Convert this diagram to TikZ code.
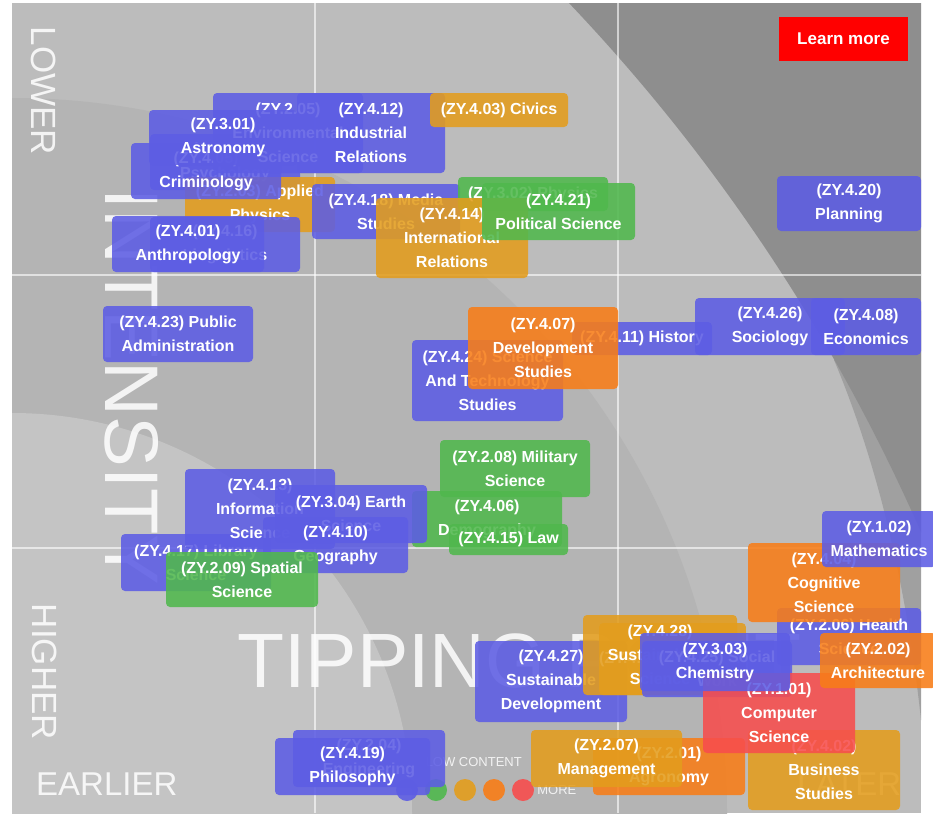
\documentclass[tikz,border=0pt]{standalone}
\usepackage{fontspec}
\setmainfont{Liberation Sans}
\usepackage{xcolor}
\usepackage{tikz}
\usetikzlibrary{
  positioning,
  calc
}

\definecolor{blu}{HTML}{5D5DE4}
\definecolor{gld}{HTML}{E39D1D}
\definecolor{org}{HTML}{F87D17}
\definecolor{grn}{HTML}{50B84D}
\definecolor{rd}{HTML}{F74D4D}
\definecolor{bgbase}{HTML}{BCBCBC}
\definecolor{bgmid}{HTML}{B4B4B4}
\definecolor{bglight}{HTML}{C4C4C4}
\definecolor{bgband}{HTML}{A0A0A0}
\definecolor{bgdark}{HTML}{8E8E8E}

\begin{document}
\begin{tikzpicture}[x=1pt,y=-1pt,
  subj/.style={rounded corners=4pt,inner sep=0pt,align=center,text=white,
    font=\bfseries\fontsize{16}{24}\selectfont,fill opacity=0.88,text opacity=1},
  biglab/.style={text=white,text opacity=0.85,inner sep=0pt,font=\fontsize{35}{35}\selectfont},
  legtxt/.style={text=white!90!gray,inner sep=0pt,font=\fontsize{13}{13}\selectfont}]

  \useasboundingbox (0,0) rectangle (933,819);
  \fill[white] (0,0) rectangle (933,819);

  % 背景の同心円
  \begin{scope}
    \clip (12,3) rectangle (921,813);
    \fill[bgbase] (12,3) rectangle (921,813);
    \fill[bgmid] (12,813) circle[radius=715];
    \fill[bglight] (12,813) circle[radius=400];
    \fill[bgband] (834,360) .. controls (872,450) and (905,570) .. (921,720) -- (940,720) -- (940,300) -- cycle;
    \fill[bgdark,even odd rule] (0,0) rectangle (940,830) (-764,1270) circle[radius=1839];
  \end{scope}

  % 格子線
  \foreach \gx in {315,618}
  \draw[white,opacity=0.6,line width=1.5pt] (\gx,3) -- (\gx,813);
  \foreach \gy in {275,548}
  \draw[white,opacity=0.6,line width=1.5pt] (12,\gy) -- (921,\gy);

  % 軸の文字
  \node[biglab,rotate=-90] (lower) at (44,91) {LOWER};
  \node[biglab,rotate=-90] (higher) at (45,672) {HIGHER};
  \node[biglab,anchor=base west,font=\fontsize{33}{33}\selectfont] (earlier) at (36,795) {EARLIER};
  \node[biglab,anchor=base west,font=\fontsize{33}{33}\selectfont] (later) at (797,795) {LATER};
  \node[biglab,rotate=-90,font=\fontsize{76}{76}\selectfont] (intensity) at (132,387) {INTENSITY};
  \node[biglab,anchor=base west,font=\fontsize{77}{77}\selectfont] (tipping) at (237,687) {TIPPING POINT};

  % 凡例
  \node[legtxt,anchor=east] (lowcontent) at (522,762) {LOW CONTENT};
  \foreach \col [count=\i] in {blu,grn,gld,org,rd}
  \node[circle,fill=\col,fill opacity=0.9,minimum size=22pt,inner sep=0pt] (dot\i) at (378+29*\i,790) {};
  \node[legtxt,right=3pt of dot5] (more) {MORE};

  % 分野の箱 (後ろから順に)
  \foreach \nm/\x/\y/\bw/\bh/\col/\txt in {
    psych/225/162/150/56/blu/(ZY.4.22)\\Psychology,
    aphys/260/204.5/150/55/gld/(ZY.2.03) Applied\\Physics,
    ling/225/244.5/150/55/blu/(ZY.4.16)\\Linguistics,
    anthro/188/244/152/56/blu/(ZY.4.01)\\Anthropology,
    crim/206/171/150/56/blu/(ZY.4.05)\\Criminology,
    envsci/288/133/150/80/blu/(ZY.2.05)\\Environmental\\Science,
    astro/223/137.5/148/55/blu/(ZY.3.01)\\Astronomy,
    indrel/371/133/148/80/blu/(ZY.4.12)\\Industrial\\Relations,
    civics/499/110/138/34/gld/(ZY.4.03) Civics,
    media/386/211.5/148/55/blu/(ZY.4.18) Media\\Studies,
    phys/533/194/150/34/grn/(ZY.3.02) Physics,
    intrel/452/238/152/80/gld/(ZY.4.14)\\International\\Relations,
    polsci/558.5/211.5/153/57/grn/(ZY.4.21)\\Political Science,
    plan/849/203.5/144/55/blu/(ZY.4.20)\\Planning,
    pubadm/178/334/150/56/blu/(ZY.4.23) Public\\Administration,
    scitech/487.5/380.5/151/81/blu/(ZY.4.24) Science\\And Technology\\Studies,
    hist/642/338.5/140/33/blu/(ZY.4.11) History,
    devel/543/348/150/82/org/(ZY.4.07)\\Development\\Studies,
    socio/770/326.5/150/57/blu/(ZY.4.26)\\Sociology,
    econ/866/326.5/110/57/blu/(ZY.4.08)\\Economics,
    milit/515/468.5/150/57/grn/(ZY.2.08) Military\\Science,
    demog/487/519/150/56/grn/(ZY.4.06)\\Demography,
    law/508.5/539.5/119/31/grn/(ZY.4.15) Law,
    lib/196/562.5/150/57/blu/(ZY.4.17) Library\\Science,
    info/260/509/150/80/blu/(ZY.4.13)\\Information\\Science,
    earth/351/514/152/58/blu/(ZY.3.04) Earth\\Science,
    geog/335.5/545/145/56/blu/(ZY.4.10)\\Geography,
    spat/242/579.5/152/55/grn/(ZY.2.09) Spatial\\Science,
    sustdev/551/681.5/152/81/blu/(ZY.4.27)\\Sustainable\\Development,
    educ/672.5/659/141/72/gld/(ZY.4.09) Education,
    sustsci/660/655/154/80/gld/(ZY.4.28)\\Sustainability\\Science,
    socwork/717/669/150/56/blu/(ZY.4.25) Social\\Work,
    agron/669/766.5/152/57/org/(ZY.2.01)\\Agronomy,
    manag/606.5/758.5/151/57/gld/(ZY.2.07)\\Management,
    busi/824/770/152/80/gld/(ZY.4.02)\\Business\\Studies,
    comp/779/713/152/80/rd/(ZY.1.01)\\Computer\\Science,
    chem/715/662/150/58/blu/(ZY.3.03)\\Chemistry,
    health/849/636.5/144/57/blu/(ZY.2.06) Health\\Science,
    cogn/824/582.5/152/79/org/(ZY.4.04)\\Cognitive\\Science,
    math/879/539/114/56/blu/(ZY.1.02)\\Mathematics,
    arch/878/660.5/116/55/org/(ZY.2.02)\\Architecture,
    engin/369/758.5/152/57/blu/(ZY.2.04)\\Engineering,
    philo/352.5/766.5/155/57/blu/(ZY.4.19)\\Philosophy}
  \node[subj,fill=\col,minimum width=\bw pt,minimum height=\bh pt] (\nm) at (\x,\y) {\txt};

  % ボタン
  \node[fill=red,text=white,font=\bfseries\fontsize{17}{20}\selectfont,minimum width=129pt,minimum height=44pt,inner sep=0pt] (learn) at (843.5,39) {Learn more};
\end{tikzpicture}
\end{document}
